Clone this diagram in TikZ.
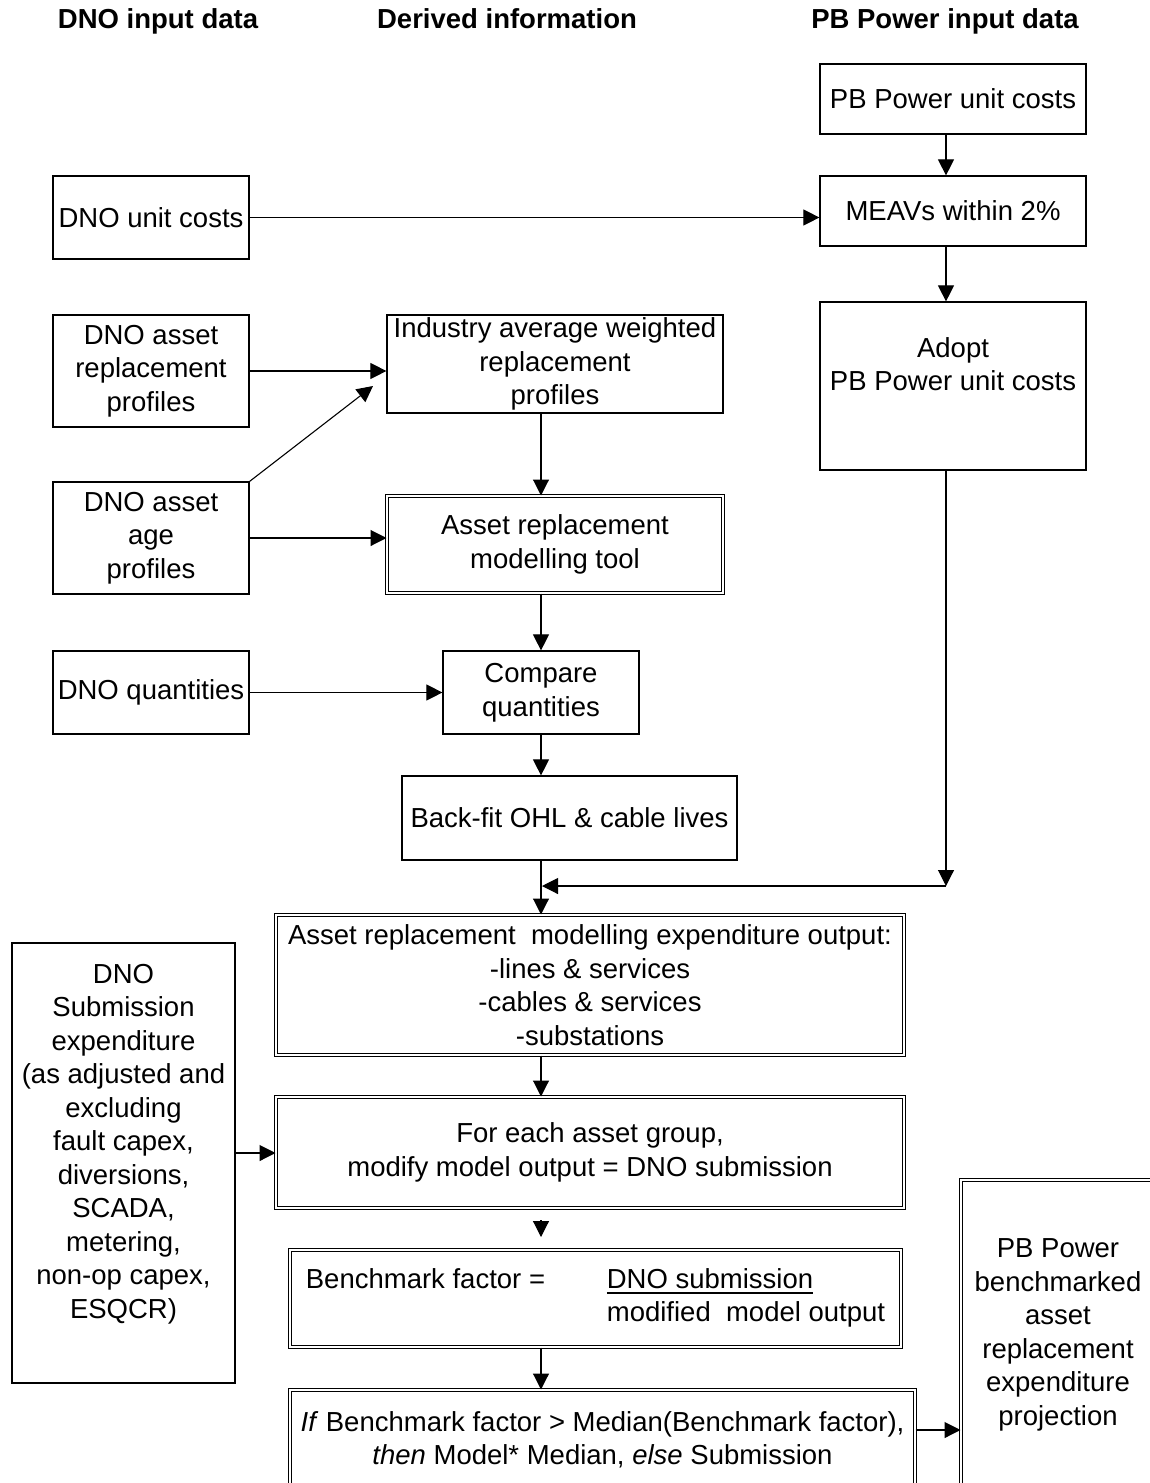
\documentclass[tikz,border=0pt]{standalone}
\usepackage{fontspec}
\setmainfont{Liberation Sans}
\usepackage{calc}
\usetikzlibrary{arrows.meta}
\newcommand{\thickul}[1]{\rlap{\rule[-6pt]{\widthof{#1}}{2pt}}#1}
\tikzset{
  box/.style={draw, line width=1.2pt, align=center, inner sep=0pt, font=\fontsize{27.5}{33.5}\selectfont},
  dbox/.style={box, double, line width=1pt, double distance=2pt},
  head/.style={font=\fontsize{27.5}{33.5}\selectfont\bfseries, anchor=base},
  flow/.style={-{Triangle[length=16pt,width=16pt]}, line width=1.1pt}
}

\begin{document}
\begin{tikzpicture}[x=1pt,y=-1pt]
  \useasboundingbox (0,0) rectangle (1149,1483);
  % column headings
  \node[head] (hdno) at (158,28) {DNO input data};
  \node[head] (hder) at (507,28) {Derived information};
  \node[head] (hpb) at (945,28) {PB Power input data};

  \coordinate (spine) at (541,0);
  \coordinate (pbx) at (946,0);

  % PB Power column
  \node[box, minimum width=266pt, minimum height=70pt] (pbunit) at (953,99) {PB Power unit costs};
  \node[box, minimum width=266pt, minimum height=70pt] (meav) at (953,211) {MEAVs within 2\%};
  \node[box, minimum width=266pt, minimum height=168pt] (adopt) at (953,386) {Adopt\\PB Power unit costs\\ \strut};

  % DNO column
  \node[box, minimum width=196pt, minimum height=83pt] (dnounit) at (151,217.5) {DNO unit costs};
  \node[box, minimum width=196pt, minimum height=112pt] (dnorep) at (151,371) {DNO asset\\replacement\\profiles};
  \node[box, minimum width=196pt, minimum height=112pt] (dnoage) at (151,538) {DNO asset\\age\\profiles};
  \node[box, minimum width=196pt, minimum height=83pt] (dnoqty) at (151,692.5) {DNO quantities};
  \node[box, minimum width=223pt, minimum height=440pt] (dnosub) at (123.5,1163) {DNO\\Submission\\expenditure\\(as adjusted and\\excluding\\fault capex,\\diversions,\\SCADA,\\metering,\\non-op capex,\\ESQCR)\\ \strut};

  % derived column
  \node[box, minimum width=336pt, minimum height=98pt] (indust) at (555,364) {Industry average weighted\\replacement\\profiles};
  \node[dbox, minimum width=336pt, minimum height=97pt] (armt) at (555,544.5) {Asset replacement\\modelling tool};
  \node[box, minimum width=196pt, minimum height=83pt] (cmp) at (541,692.5) {Compare\\quantities};
  \node[box, minimum width=335pt, minimum height=84pt] (backfit) at (569.5,818) {Back-fit OHL \& cable lives};
  \node[dbox, minimum width=628pt, minimum height=140pt] (armeo) at (590,985) {Asset replacement\ \ modelling expenditure output:\\-lines \& services\\-cables \& services\\-substations};
  \node[dbox, minimum width=628pt, minimum height=111pt] (each) at (590,1152.5) {For each asset group,\\modify model output = DNO submission};
  \node[dbox, minimum width=611pt, minimum height=97pt] (bench) at (595.5,1298.5) {\begin{tabular}{@{}p{301pt}@{}l@{}}Benchmark factor = & \thickul{DNO submission}\\ & modified\ \ model output\end{tabular}};
  \node[dbox, minimum width=625pt, minimum height=100pt] (final) at (602.5,1440) {\textit{If} Benchmark factor > Median(Benchmark factor),\\\textit{then} Model* Median, \textit{else} Submission};
  \node[dbox, minimum width=194pt, minimum height=310pt] (pbbench) at (1058,1335) {PB Power\\benchmarked\\asset\\replacement\\expenditure\\projection};

  \coordinate (diagend) at (373,386);
  \coordinate (jr) at (946,886);
  \coordinate (jl) at (542,886);
  \coordinate (suby) at (0,1153);
  \coordinate (gaptop) at (541,1220);
  \coordinate (gapbot) at (541,1237);
  \coordinate (outy) at (0,1430);

  \draw[flow] (pbunit.south -| pbx) -- (meav.north -| pbx);
  \draw[flow] (dnounit.east) -- (dnounit.east -| meav.west);
  \draw[flow] (meav.south -| pbx) -- (adopt.north -| pbx);
  \draw[flow] (dnorep.east) -- (dnorep.east -| indust.west);
  \draw[flow] (dnoage.north east) -- (diagend);
  \draw[flow] (indust.south -| spine) -- (armt.north -| spine);
  \draw[flow] (dnoage.east) -- (dnoage.east -| armt.west);
  \draw[flow] (armt.south -| spine) -- (cmp.north);
  \draw[flow] (dnoqty.east) -- (cmp.west);
  \draw[flow] (cmp.south) -- (backfit.north -| spine);
  \draw[flow] (backfit.south -| spine) -- (armeo.north -| spine);
  \draw[flow] (adopt.south -| pbx) -- (jr);
  \draw[flow] (jr) -- (jl);
  \draw[flow] (armeo.south -| spine) -- (each.north -| spine);
  \draw[flow] (dnosub.east |- suby) -- (each.west |- suby);
  \draw[flow] (gaptop) -- (gapbot);
  \draw[flow] (bench.south -| spine) -- (final.north -| spine);
  \draw[flow] (final.east |- outy) -- (pbbench.west |- outy);
\end{tikzpicture}
\end{document}
